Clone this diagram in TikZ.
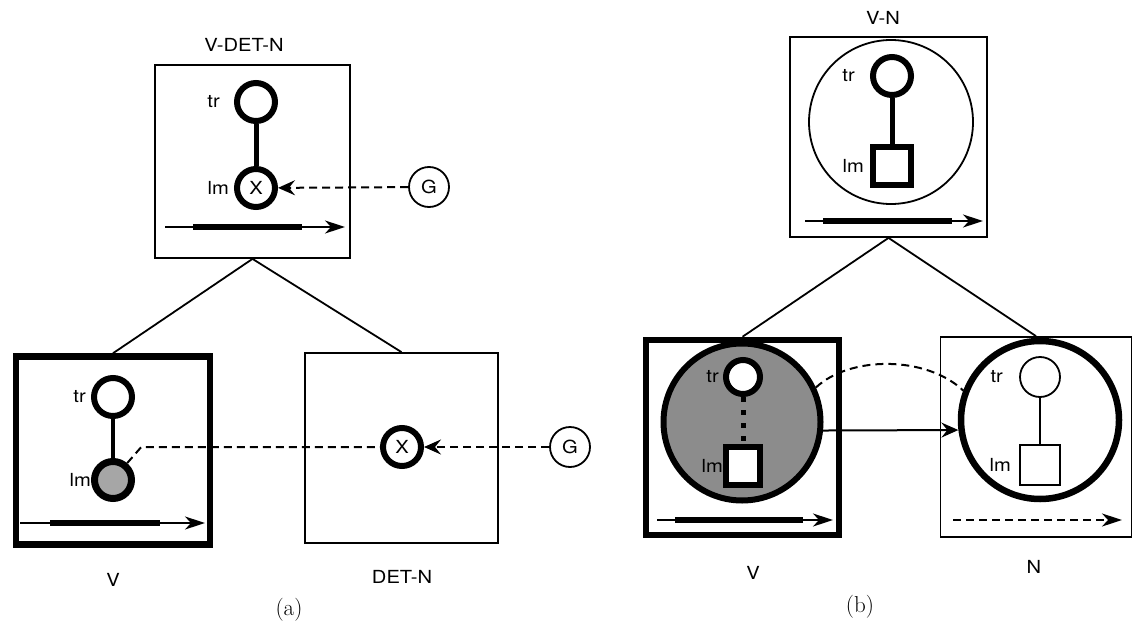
\documentclass[tikz,border=0pt]{standalone}
\usepackage{fontspec}
\newfontfamily\hvfont[FakeStretch=1.12]{TeX Gyre Heros}
\usetikzlibrary{arrows.meta, positioning}
\tikzset{
  frame/.style={rectangle, draw, line width=1.8pt, inner sep=0pt},
  boldframe/.style={rectangle, draw, line width=6.5pt, inner sep=0pt},
  role/.style={circle, draw, fill=white, line width=6pt, minimum size=38pt, inner sep=0pt, font=\hvfont\fontsize{18}{20}\selectfont},
  thinrole/.style={circle, draw, fill=white, line width=1.8pt, minimum size=40pt, inner sep=0pt, font=\hvfont\fontsize{18}{20}\selectfont},
  boldsq/.style={rectangle, draw, fill=white, line width=6pt, minimum size=38pt, inner sep=0pt},
  thinsq/.style={rectangle, draw, fill=white, line width=1.8pt, minimum size=40pt, inner sep=0pt},
  lbl/.style={font=\hvfont\fontsize{18}{20}\selectfont, inner sep=0pt},
  caption/.style={font=\fontsize{23}{25}\selectfont, inner sep=0pt},
  link/.style={line width=5pt},
  treeline/.style={line width=1.8pt},
  dashline/.style={line width=2pt, dash pattern=on 8pt off 5pt},
  dasharrow/.style={dashline, -{Stealth[length=17pt, width=15pt, inset=6pt]}},
  solidarrow/.style={line width=2pt, -{Stealth[length=17pt, width=15pt, inset=6pt]}},
  timearrow/.style={line width=1.8pt, -{Stealth[length=20pt, width=13pt, inset=6pt]}},
  timebar/.style={line width=6pt}
}

\begin{document}
\begin{tikzpicture}[x=1pt, y=-1pt]
  \useasboundingbox (0,0) rectangle (1135,626);

  % (a) V-DET-N
  \node[frame, minimum width=195pt, minimum height=193pt] (vdetn) at (252.5,161.5) {};
  \node[lbl] (vdetnLbl) at (244,45) {V-DET-N};
  \node[role] (vdetnTr) at (256,102) {};
  \node[role] (vdetnLm) at (256,188) {X};
  \node[lbl, left=14pt of vdetnTr] (vdetnTrLbl) {tr};
  \node[lbl, left=5pt of vdetnLm] (vdetnLmLbl) {lm};
  \draw[link] (vdetnTr) -- (vdetnLm);
  \node[thinrole] (gA) at (429,187) {G};
  \draw[dasharrow] (gA) -- (vdetnLm);
  \draw[timearrow] (165,227) -- (345,227);
  \draw[timebar] (193,227) -- (302,227);

  % V
  \node[boldframe, minimum width=194pt, minimum height=188pt] (vbox) at (113,450.5) {};
  \node[role] (vTr) at (113,397) {};
  \node[role, fill=black!35, line width=7pt, minimum size=37pt] (vLm) at (113,480) {};
  \node[lbl, left=5pt of vTr] (vTrLbl) {tr};
  \node[lbl, left=0pt of vLm] (vLmLbl) {lm};
  \draw[line width=4pt] (vTr) -- (vLm);
  \draw[timearrow] (20,523) -- (205,523);
  \draw[timebar] (50,523) -- (160,523);
  \node[lbl] (vLbl) at (113,580) {V};

  % DET-N
  \node[frame, minimum width=193pt, minimum height=190pt] (detn) at (401.5,448) {};
  \node[role] (detnX) at (402,447) {X};
  \node[thinrole] (gB) at (570,447) {G};
  \draw[dasharrow] (gB) -- (detnX);
  \draw[dashline] (vLm.50) -- ++(14,-16) -- (detnX);
  \node[lbl] (detnLbl) at (402,577) {DET-N};

  \draw[treeline] (vdetn.south) -- (vbox.north);
  \draw[treeline] (vdetn.south) -- (detn.north);
  \node[caption] (capA) at (289,610) {(a)};

  % (b) V-N
  \node[frame, minimum width=197pt, minimum height=200pt] (vn) at (888.5,137) {};
  \node[lbl] (vnLbl) at (883,18) {V-N};
  \node[circle, draw, line width=1.8pt, minimum size=164pt] (vnCirc) at (891,122) {};
  \node[role] (vnTr) at (892,76) {};
  \node[boldsq] (vnLm) at (892,166) {};
  \node[lbl, left=15pt of vnTr] (vnTrLbl) {tr};
  \node[lbl, left=6pt of vnLm] (vnLmLbl) {lm};
  \draw[link] (vnTr) -- (vnLm);
  \draw[timearrow] (805,221) -- (983,221);
  \draw[timebar] (823,221) -- (952,221);

  % V
  \node[boldframe, minimum width=193pt, minimum height=195pt] (vb) at (742.5,437.5) {};
  \node[circle, draw, fill=black!45, line width=6pt, minimum size=157pt] (vbCirc) at (742,422) {};
  \node[role, minimum size=34pt] (vbTr) at (743,377) {};
  \node[boldsq, minimum width=34pt, minimum height=38pt] (vbLm) at (743,466) {};
  \node[lbl, left=4pt of vbTr] (vbTrLbl) {tr};
  \node[lbl, left=0pt of vbLm] (vbLmLbl) {lm};
  \draw[line width=5pt, dash pattern=on 5pt off 8pt] (vbTr) -- (vbLm);
  \draw[timearrow] (657,520) -- (833,520);
  \draw[timebar] (675,520) -- (803,520);
  \node[lbl] (vbLbl) at (753,573) {V};

  % N
  \node[frame, minimum width=191pt, minimum height=200pt] (nbox) at (1036,437) {};
  \node[circle, draw, line width=6.5pt, minimum size=158pt] (nCirc) at (1040,420) {};
  \node[thinrole] (nTr) at (1040,377) {};
  \node[thinsq] (nLm) at (1040,465) {};
  \node[lbl, left=16pt of nTr] (nTrLbl) {tr};
  \node[lbl, left=8pt of nLm] (nLmLbl) {lm};
  \draw[line width=1.8pt] (nTr) -- (nLm);
  \draw[dashline, -{Stealth[length=20pt, width=13pt, inset=6pt]}] (953,520) -- (1122,520);
  \node[lbl] (nLbl) at (1034,567) {N};

  \draw[solidarrow] (vbCirc.-6) -- (nCirc.187);
  \draw[dashline] (vbCirc.25) .. controls +(34,-32) and +(-37,-35) .. (nCirc.159);

  \draw[treeline] (vn.south) -- (vb.north);
  \draw[treeline] (vn.south) -- (nbox.north);
  \node[caption] (capB) at (860,607) {(b)};
\end{tikzpicture}
\end{document}
